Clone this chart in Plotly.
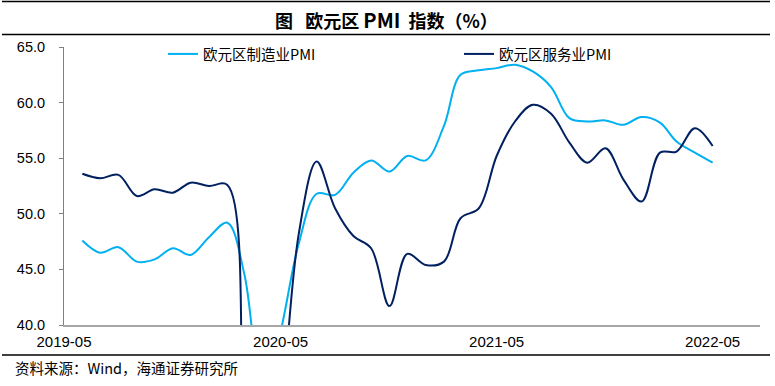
import plotly.graph_objects as go

months = [
    "2019-06", "2019-07", "2019-08", "2019-09", "2019-10", "2019-11", "2019-12",
    "2020-01", "2020-02", "2020-03", "2020-04", "2020-05", "2020-06", "2020-07",
    "2020-08", "2020-09", "2020-10", "2020-11", "2020-12",
    "2021-01", "2021-02", "2021-03", "2021-04", "2021-05", "2021-06", "2021-07",
    "2021-08", "2021-09", "2021-10", "2021-11", "2021-12",
    "2022-01", "2022-02", "2022-03", "2022-04", "2022-05",
]
mfg_pmi = [
    47.6, 46.5, 47.0, 45.7, 45.9, 46.9, 46.3,
    47.9, 49.2, 44.5, 33.4, 39.4, 47.4, 51.8,
    51.7, 53.7, 54.8, 53.8, 55.2,
    54.8, 57.9, 62.5, 62.9, 63.1, 63.4, 62.8,
    61.4, 58.6, 58.3, 58.4, 58.0,
    58.7, 58.2, 56.5, 55.5, 54.6,
]
svc_pmi = [
    53.6, 53.2, 53.5, 51.6, 52.2, 51.9, 52.8,
    52.5, 52.6, 26.4, 12.0, 30.5, 48.3, 54.7,
    50.5, 48.0, 46.9, 41.7, 46.4,
    45.4, 45.7, 49.6, 50.5, 55.2, 58.3, 59.8,
    59.0, 56.4, 54.6, 55.9, 53.1,
    51.1, 55.5, 55.6, 57.7, 56.1,
]
series_names = ["欧元区制造业PMI", "欧元区服务业PMI"]
x_tick_vals = ["2019-05-01", "2020-05-01", "2021-05-01", "2022-05-01"]
x_tick_text = ["2019-05", "2020-05", "2021-05", "2022-05"]
y_tick_vals = [40, 45, 50, 55, 60, 65]

LAT = "Liberation Sans, Arial, Noto Sans CJK SC, sans-serif"
CJK = "Noto Sans CJK SC, Liberation Sans, sans-serif"

# pixel geometry of the plot area
L, R, T, B = 64, 760, 47, 325
PW, PH = R - L, B - T


def px(x):
    return (x - L) / PW


def py(y):
    return (B - y) / PH


fig = go.Figure()
fig.add_trace(go.Scatter(
    x=months, y=mfg_pmi, name=series_names[0], mode="lines",
    line=dict(color="#00B0F0", width=2, shape="spline", smoothing=1.0),
))
fig.add_trace(go.Scatter(
    x=months, y=svc_pmi, name=series_names[1], mode="lines",
    line=dict(color="#002060", width=2, shape="spline", smoothing=1.0),
))

fig.update_layout(
    width=775, height=386,
    margin=dict(l=L, r=775 - R, t=T, b=386 - B),
    paper_bgcolor="white", plot_bgcolor="white",
    font=dict(family=LAT, size=14, color="#000000"),
    showlegend=True,
    legend=dict(
        orientation="h", x=px(163), y=py(54), xanchor="left", yanchor="middle",
        bgcolor="rgba(0,0,0,0)", font=dict(family=CJK, size=14.5, color="#000000"),
        entrywidth=251, entrywidthmode="pixels", itemwidth=30,
    ),
    xaxis=dict(
        type="date", range=["2019-05-01", "2022-07-20"],
        tickvals=x_tick_vals, ticktext=x_tick_text,
        showgrid=False, zeroline=False, ticks="",
        showline=True, linecolor="#A6A6A6", linewidth=2,
        tickfont=dict(family=LAT, size=15, color="#000000"),
        ticklabelstandoff=2,
    ),
    yaxis=dict(
        range=[40, 65], tickvals=y_tick_vals, tickformat=".1f",
        showgrid=False, zeroline=False,
        ticks="outside", ticklen=4, tickcolor="#808080",
        showline=True, linecolor="#808080", linewidth=1,
        tickfont=dict(family=LAT, size=14.5, color="#000000"),
        ticklabelstandoff=11,
    ),
)

# title and frame lines
title_text = ("<b>图\u00a0\u00a0\u00a0欧元区\u00a0<span style='font-size:20px'>PMI</span>"
              "\u00a0\u00a0指数（%）</b>")
fig.add_annotation(
    text=title_text, xref="paper", yref="paper",
    x=px(273), y=py(19.5), xanchor="left", yanchor="middle",
    showarrow=False, font=dict(family=CJK, size=18, color="#000000"),
)
for ypx in (1.5, 34.5, 355):
    fig.add_shape(type="line", xref="paper", yref="paper",
                  x0=px(2), x1=px(770), y0=py(ypx), y1=py(ypx),
                  line=dict(color="#000000", width=1.5))

fig.add_annotation(
    text="资料来源：Wind，海通证券研究所", xref="paper", yref="paper",
    x=px(13), y=py(367), xanchor="left", yanchor="middle",
    showarrow=False, font=dict(family=CJK, size=14.5, color="#000000"),
)

fig.write_html(
    "out.html",
    config={"displayModeBar": False},
    post_script="document.body.style.margin='0';document.body.style.overflow='hidden';",
)
